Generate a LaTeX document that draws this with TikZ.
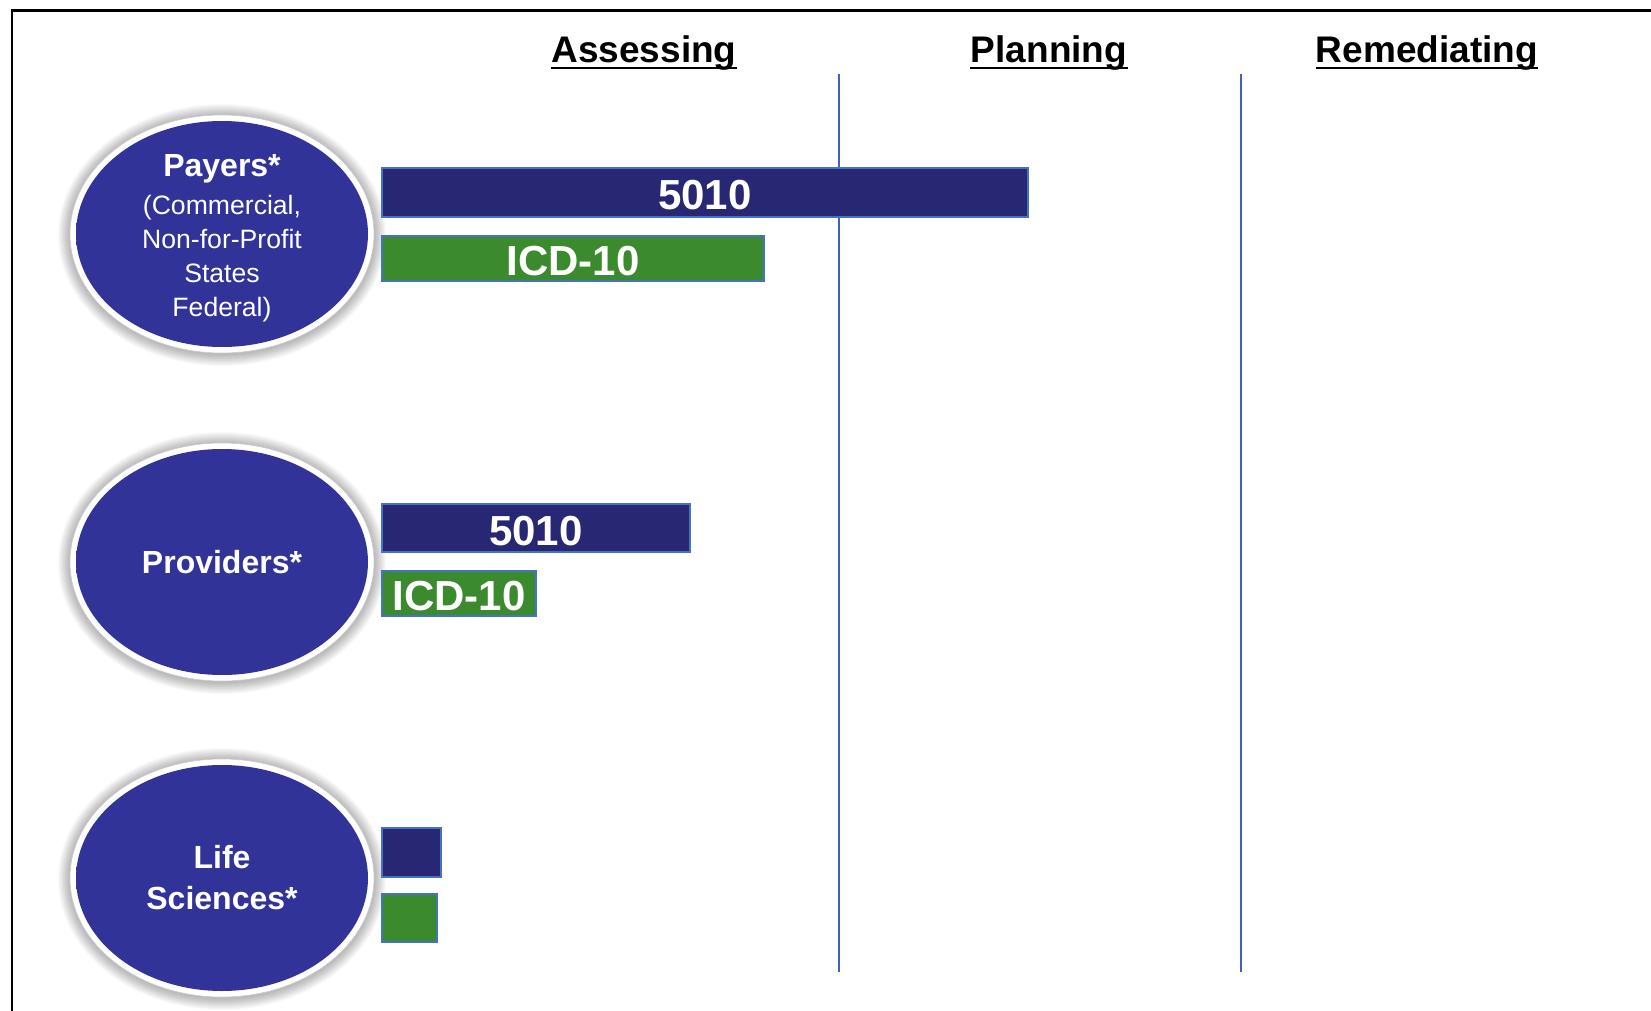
\documentclass[tikz,border=0pt]{standalone}
\usepackage{fontspec}
\setmainfont{Liberation Sans}
\usetikzlibrary{shapes.geometric}
\definecolor{navyfill}{RGB}{40,39,115}
\definecolor{icdfill}{RGB}{60,138,46}
\definecolor{barline}{RGB}{70,114,196}
\definecolor{divider}{RGB}{66,98,186}
\definecolor{ellin}{RGB}{50,51,152}
\definecolor{ellout}{RGB}{30,30,108}
\pgfdeclareradialshading{ellbody}{\pgfpoint{0bp}{0bp}}{color(0bp)=(ellin); color(40bp)=(ellin); color(50bp)=(ellout)}
\tikzset{
  hdr/.style={font=\bfseries\fontsize{18.5}{22}\selectfont, anchor=base, inner sep=0pt},
  barbase/.style={draw=barline, line width=0.75pt, inner sep=0pt, text=white,
    text height=17.4pt, text depth=0pt,
    font=\bfseries\fontsize{21}{24}\selectfont},
  navybar/.style={barbase, fill=navyfill},
  icdbar/.style={barbase, fill=icdfill},
  body/.style={ellipse, minimum width=146pt, minimum height=113pt, inner sep=0pt,
    shade, shading=ellbody},
  bodytext/.style={text=white, align=center, inner sep=0pt},
  divline/.style={draw=divider, line width=1pt},
  uline/.style={line width=1.3pt}
}
\newcommand{\halo}[2]{%
  \foreach \k in {0,...,11}{
    \fill[black, opacity=0.025] (#1,#2+1) ellipse [x radius=146+6+12-\k, y radius=113+6+12-\k];
  }
  \fill[white, draw=gray!40, line width=0.3pt] (#1,#2) ellipse [x radius=152, y radius=119];
}
\begin{document}
\begin{tikzpicture}[x=0.5pt, y=-0.5pt]
\useasboundingbox (0,0) rectangle (1651,1011);
\clip (0,0) rectangle (1651,1011);
\fill[white] (0,0) rectangle (1651,1011);
% frame
\draw[line width=1.4pt] (12,1040) -- (12,10.5) -- (1690,10.5);
% headers
\node[hdr] (hA) at (644,63) {Assessing};
\node[hdr] (hP) at (1049,63) {Planning};
\node[hdr] (hR) at (1427,63) {Remediating};
\foreach \h in {hA,hP,hR}{
  \draw[uline] ([yshift=-2.5pt]\h.base west) -- ([yshift=-2.5pt]\h.base east);
}
% dividers
\draw[divline] (839,74) -- (839,972);
\draw[divline] (1241,74) -- (1241,972);
% ellipses
\halo{222}{234}
\node[body] (payers) at (222,234) {};
\node[bodytext, font=\fontsize{13.3}{17}\selectfont] (payerstxt) at ([yshift=-2pt]payers.center)
  {{\bfseries\fontsize{16}{17}\selectfont Payers*}\\[2pt](Commercial,\\Non-for-Profit\\States\\Federal)};
\halo{222}{562}
\node[body] (providers) at (222,562) {};
\node[bodytext, font=\bfseries\fontsize{16}{20}\selectfont] (providerstxt) at (providers.center) {Providers*};
\halo{222}{878}
\node[body] (life) at (222,878) {};
\node[bodytext, font=\bfseries\fontsize{16}{20.5}\selectfont] (lifetxt) at (life.center) {Life\\Sciences*};
% bars
\node[navybar, minimum width=323pt, minimum height=24.5pt] (p5010) at (705,192.5) {5010};
\node[icdbar, minimum width=191pt, minimum height=22.5pt] (picd) at (573,258.5) {ICD-10};
\node[navybar, minimum width=154pt, minimum height=24pt] (pr5010) at (536,528) {5010};
\node[icdbar, minimum width=77pt, minimum height=22.5pt] (pricd) at (459,593.5) {ICD-10};
\node[navybar, minimum width=29.5pt, minimum height=24.5pt] (l5010) at (411.5,852.5) {};
\node[icdbar, minimum width=27.5pt, minimum height=24pt] (licd) at (409.5,918) {};
\end{tikzpicture}
\end{document}
